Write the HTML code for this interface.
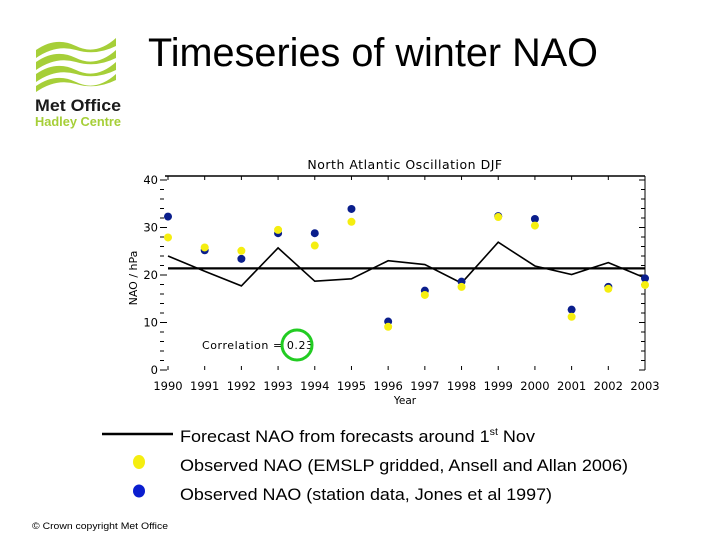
<!DOCTYPE html>
<html><head><meta charset="utf-8"><style>
html,body{margin:0;padding:0;background:#fff}
body{width:720px;height:540px;overflow:hidden;position:relative;font-family:"Liberation Sans",sans-serif}
</style></head><body>
<svg width="720" height="540" viewBox="0 0 720 540" xmlns="http://www.w3.org/2000/svg">
<g>
<path d="M36 50 q20 -14 40 -4 t40 -8 l0 8 q-20 10 -40 4 t-40 8z" fill="#a6cf38"/>
<path d="M36 62 q20 -14 40 -4 t40 -8 l0 8 q-20 10 -40 4 t-40 8z" fill="#a6cf38"/>
<path d="M36 74 q20 -14 40 -4 t40 -8 l0 8 q-20 10 -40 4 t-40 8z" fill="#a6cf38"/>
<path d="M36 86 q20 -14 40 -4 t40 -8 l0 6 q-20 10 -40 4 t-40 8z" fill="#a6cf38"/>
<text x="35" y="111" font-size="17" font-weight="bold" fill="#1a1a1a" textLength="86" lengthAdjust="spacingAndGlyphs">Met Office</text>
<text x="35" y="126" font-size="13" font-weight="bold" fill="#a6cf38" textLength="86" lengthAdjust="spacingAndGlyphs">Hadley Centre</text>
</g>
<text x="148" y="66" font-size="40" fill="#000" textLength="450" lengthAdjust="spacingAndGlyphs">Timeseries of winter NAO</text>
<g id="chart"></g>
<g>
<line x1="102" y1="434" x2="173" y2="434" stroke="#000" stroke-width="2.5"/>
<text x="180" y="442" font-size="17" textLength="355" lengthAdjust="spacingAndGlyphs">Forecast NAO from forecasts around 1<tspan font-size="10" dy="-7">st</tspan><tspan dy="7"> Nov</tspan></text>
<ellipse cx="139" cy="462" rx="6" ry="7" fill="#f5ee10"/>
<text x="180" y="471" font-size="17" textLength="448" lengthAdjust="spacingAndGlyphs">Observed NAO (EMSLP gridded, Ansell and Allan 2006)</text>
<ellipse cx="139" cy="491" rx="6" ry="6.5" fill="#0a1ecf"/>
<text x="180" y="500" font-size="17" textLength="372" lengthAdjust="spacingAndGlyphs">Observed NAO (station data, Jones et al 1997)</text>
</g>
<text x="32" y="529" font-size="9" textLength="136" lengthAdjust="spacingAndGlyphs">© Crown copyright   Met Office</text>
</svg>
<script>
const years=[1990,1991,1992,1993,1994,1995,1996,1997,1998,1999,2000,2001,2002,2003];
const forecast=[24,20.8,17.7,25.7,18.7,19.2,23,22.2,18.3,26.9,21.9,20.1,22.6,19.4];
const emslp=[27.9,25.8,25.1,29.5,26.2,31.2,9.1,15.8,17.5,32.2,30.4,11.2,17.1,17.9];
const station=[32.3,25.2,23.4,28.8,28.8,33.9,10.2,16.7,18.6,32.4,31.8,12.7,17.5,19.3];
const meanLine=[21.4];
const yTicks=[0,10,20,30,40];
const NS="http://www.w3.org/2000/svg";
const g=document.getElementById('chart');
const X0=168,X1=645,Y0=370,Y1=180;
const xs=y=>X0+(y-years[0])/(years[years.length-1]-years[0])*(X1-X0);
const ys=v=>Y0-(v-0)/(40-0)*(Y0-Y1);
function mk(t,a){const e=document.createElementNS(NS,t);for(const k in a)e.setAttribute(k,a[k]);g.appendChild(e);return e;}
let e;
e=mk('line',{x1:X0-3,y1:176,x2:X1,y2:176,stroke:'#000','stroke-width':1.5});


e=mk('line',{x1:X1,y1:176,x2:X1,y2:Y0,stroke:'#000','stroke-width':1});


for(let v=0;v<=40;v+=2){const big=v%10===0;
e=mk('line',{x1:X0-8,y1:ys(v),x2:X0-(big?1:4),y2:ys(v),stroke:'#000','stroke-width':1});


e=mk('line',{x1:X1,y1:ys(v),x2:X1-(big?6:4),y2:ys(v),stroke:'#000','stroke-width':1});

}
yTicks.forEach(v=>{e=mk('text',{x:X0-10,y:ys(v)+4,'font-size':11.5,'text-anchor':'end','font-family':'DejaVu Sans, sans-serif'});e.textContent=v;

});
years.forEach(y=>{e=mk('line',{x1:xs(y),y1:176,x2:xs(y),y2:180,stroke:'#000'});


e=mk('line',{x1:xs(y),y1:Y0,x2:xs(y),y2:Y0-4,stroke:'#000'});


e=mk('text',{x:xs(y),y:390,'font-size':11.5,'text-anchor':'middle','font-family':'DejaVu Sans, sans-serif'});e.textContent=y;

});
e=mk('text',{x:405,y:404,'font-size':10.5,'text-anchor':'middle','font-family':'DejaVu Sans, sans-serif'});e.textContent='Year';


e=mk('text',{x:137,y:278,'font-size':11,'text-anchor':'middle','font-family':'DejaVu Sans, sans-serif',transform:'rotate(-90 137 278)'});e.textContent='NAO / hPa';


e=mk('text',{x:405,y:169,'font-size':12.5,'text-anchor':'middle','font-family':'DejaVu Sans, sans-serif','letter-spacing':'0.5'});e.textContent='North  Atlantic  Oscillation  DJF';


e=mk('line',{x1:X0,y1:ys(meanLine[0]),x2:X1,y2:ys(meanLine[0]),stroke:'#000','stroke-width':2.2});


e=mk('polyline',{points:years.map((y,i)=>xs(y)+','+ys(forecast[i])).join(' '),fill:'none',stroke:'#000','stroke-width':1.6});


years.forEach((y,i)=>{e=mk('circle',{cx:xs(y),cy:ys(station[i]),r:4,fill:'#0a1e8c'});

});
years.forEach((y,i)=>{e=mk('circle',{cx:xs(y),cy:ys(emslp[i]),r:4,fill:'#f5ee10'});

});
e=mk('text',{x:202,y:349,'font-size':11,'font-family':'DejaVu Sans, sans-serif',textLength:111,lengthAdjust:'spacing'});e.textContent='Correlation  =  0.23';


e=mk('circle',{cx:297,cy:345,r:15,fill:'none',stroke:'#22cc22','stroke-width':3});


</script>
</body></html>
